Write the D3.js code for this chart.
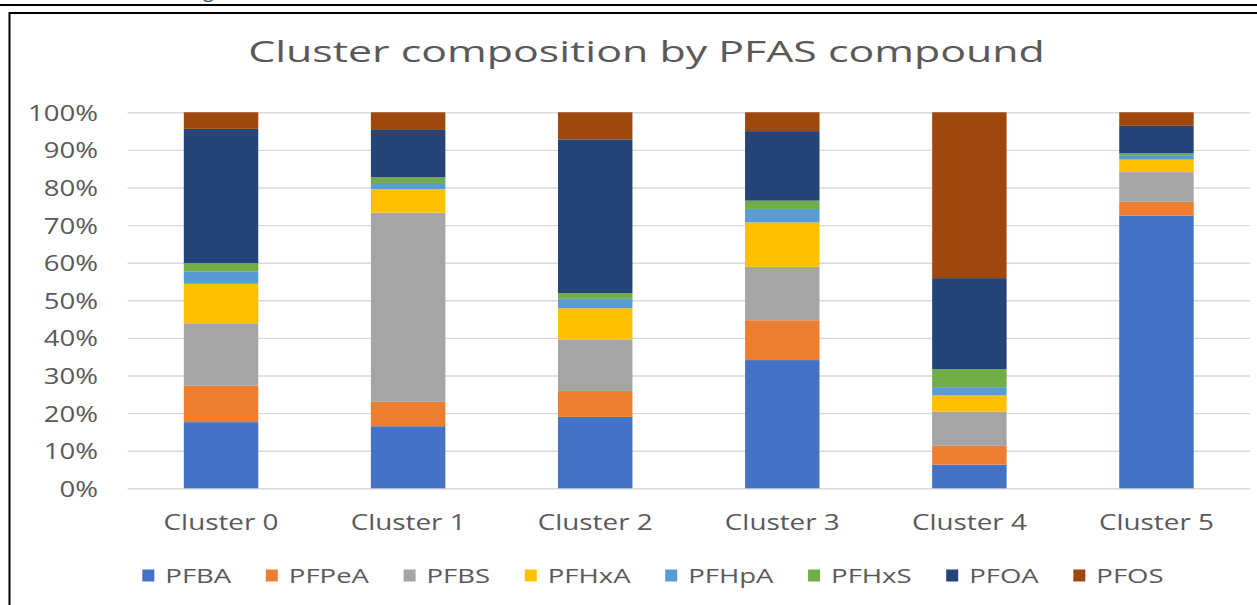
<!DOCTYPE html>
<html>
<head>
<meta charset="utf-8">
<script src="https://cdn.jsdelivr.net/npm/d3@7"></script>
<style>
  html, body { margin: 0; padding: 0; background: #fff; }
  svg { display: block; }
</style>
</head>
<body>
<svg id="chart" width="1257" height="605"></svg>
<script>
// ---- data ----
const title = "Cluster composition by PFAS compound";
const categories = ["Cluster 0", "Cluster 1", "Cluster 2", "Cluster 3", "Cluster 4", "Cluster 5"];
const compounds = ["PFBA", "PFPeA", "PFBS", "PFHxA", "PFHpA", "PFHxS", "PFOA", "PFOS"];
const PFBA  = [17.6, 16.5, 19.0, 34.1,  6.3, 72.5];
const PFPeA = [ 9.7,  6.5,  6.9, 10.6,  5.0,  3.7];
const PFBS  = [16.6, 50.3, 13.7, 14.2,  9.1,  7.9];
const PFHxA = [10.5,  6.2,  8.3, 11.8,  4.3,  3.3];
const PFHpA = [ 3.3,  1.7,  2.5,  3.6,  2.2,  1.2];
const PFHxS = [ 2.2,  1.5,  1.5,  2.2,  4.8,  0.5];
const PFOA  = [35.7, 12.6, 40.9, 18.5, 24.2,  7.3];
const PFOS  = [ 4.4,  4.7,  7.2,  5.0, 44.1,  3.6];
const yTicks = [0, 0.1, 0.2, 0.3, 0.4, 0.5, 0.6, 0.7, 0.8, 0.9, 1.0];
const colors = ["#4472C4", "#ED7D31", "#A5A5A5", "#FFC000", "#5B9BD5", "#70AD47", "#264478", "#9E480E"];

const seriesValues = { PFBA, PFPeA, PFBS, PFHxA, PFHpA, PFHxS, PFOA, PFOS };
const table = categories.map((c, i) => {
  const row = { category: c };
  compounds.forEach(k => row[k] = seriesValues[k][i]);
  return row;
});

// ---- layout ----
const FONT = "'Open Sans', 'Noto Sans', sans-serif";
const TXT = "#595959";
const plot = { left: 127.5, right: 1250, top: 112.3, bottom: 488.3 };

const svg = d3.select("#chart");

// page decorations (document frame around the chart)
svg.append("text")
  .attr("x", 203).attr("y", -3)
  .attr("font-family", FONT).attr("font-size", 20)
  .attr("fill", "#2F5496").text("g");
svg.append("line").attr("x1", 0).attr("x2", 1257).attr("y1", 5).attr("y2", 5)
  .attr("stroke", "#000").attr("stroke-width", 2);
svg.append("rect").attr("x", 9.5).attr("y", 13).attr("width", 1400).attr("height", 800)
  .attr("fill", "#fff").attr("stroke", "#000").attr("stroke-width", 2);

// horizontal stretch needed so a text sample matches a reference width
function stretchFor(fontSize, sample, targetW) {
  const t = svg.append("text").attr("font-family", FONT).attr("font-size", fontSize).text(sample);
  const w = t.node().getComputedTextLength();
  t.remove();
  return targetW / w;
}

const titleText = svg.append("text")
  .attr("font-family", FONT).attr("font-size", 30).attr("fill", TXT)
  .attr("text-anchor", "middle").text(title);
const sxTitle = 797 / titleText.node().getComputedTextLength();
titleText.attr("transform", `translate(646.5,62) scale(${sxTitle},1)`);

const x = d3.scaleBand().domain(categories).range([plot.left, plot.right])
  .paddingInner(0.602).paddingOuter(0.301);
const y = d3.scaleLinear().domain([0, 1]).range([plot.bottom, plot.top]);

// y axis with gridlines
const tickFS = 21;
const sxTick = stretchFor(tickFS, "100%", 70);
const yAxis = svg.append("g")
  .attr("transform", `translate(${plot.left},0)`)
  .call(d3.axisLeft(y).tickValues(yTicks).tickFormat(d3.format(".0%"))
    .tickSize(-(plot.right - plot.left)).tickPadding(29.5));
yAxis.select(".domain").remove();
yAxis.selectAll(".tick line").attr("stroke", "#d9d9d9").attr("stroke-width", 1.4);
yAxis.selectAll(".tick text")
  .attr("x", null).attr("dy", null)
  .attr("font-family", FONT).attr("font-size", tickFS).attr("fill", TXT)
  .attr("text-anchor", "end")
  .attr("transform", `translate(-29.5,8) scale(${sxTick},1)`);

// stacked bars
const stack = d3.stack().keys(compounds).offset(d3.stackOffsetExpand);
const layers = stack(table);
svg.append("g").selectAll("g").data(layers).join("g")
  .attr("fill", (d, i) => colors[i])
  .selectAll("rect").data(d => d).join("rect")
  .attr("x", d => x(d.data.category))
  .attr("width", x.bandwidth())
  .attr("y", d => y(d[1]))
  .attr("height", d => y(d[0]) - y(d[1]));

// x axis labels
const xFS = 21;
const sxX = stretchFor(xFS, "Cluster 0", 115);
const xAxis = svg.append("g")
  .attr("transform", `translate(0,${plot.bottom})`)
  .call(d3.axisBottom(x).tickSize(0));
xAxis.select(".domain").remove();
xAxis.selectAll(".tick text")
  .attr("y", null).attr("dy", null)
  .attr("font-family", FONT).attr("font-size", xFS).attr("fill", TXT)
  .attr("text-anchor", "middle")
  .attr("transform", `translate(0,41.5) scale(${sxX},1)`);

// legend
const legFS = 20;
const sxLeg = stretchFor(legFS, "PFBA", 66);
const legend = svg.append("g");
const sq = 12, gapText = 11, gapItem = 34.5;
let cursor = 0;
const items = compounds.map((k, i) => {
  const g = legend.append("g");
  g.append("rect").attr("width", sq).attr("height", sq).attr("y", -sq / 2 - 0.5).attr("fill", colors[i]);
  const t = g.append("text")
    .attr("font-family", FONT).attr("font-size", legFS).attr("fill", TXT).text(k);
  const w = t.node().getComputedTextLength() * sxLeg;
  t.attr("transform", `translate(${sq + gapText},7) scale(${sxLeg},1)`);
  const item = { g, x: cursor };
  cursor += sq + gapText + w + gapItem;
  return item;
});
const totalW = cursor - gapItem;
const legendStart = 653 - totalW / 2;
items.forEach(it => it.g.attr("transform", `translate(${legendStart + it.x},576)`));
</script>
</body>
</html>
